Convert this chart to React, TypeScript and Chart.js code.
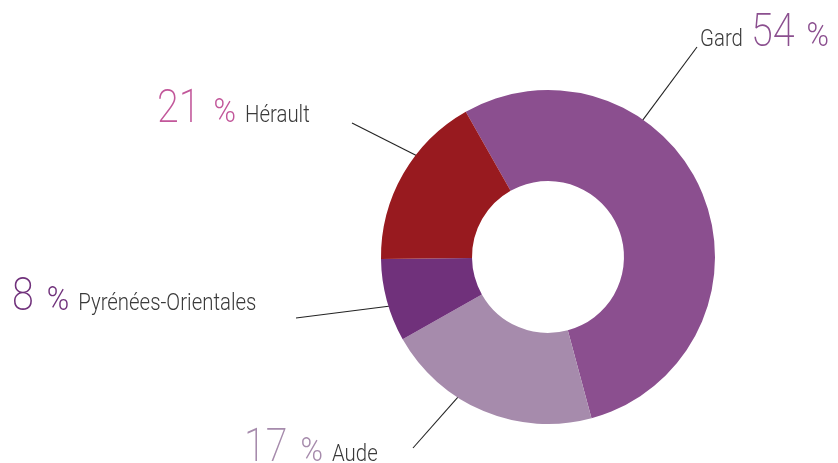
import React, { useEffect, useRef } from "react";
import { Chart, registerables } from "chart.js";

Chart.register(...registerables);

// ---- data ----
const categories = ["Gard", "Aude", "Pyrénées-Orientales", "Hérault"];
const sliceValues = [54, 21, 8, 17];
const labelPercents = ["54", "17", "8", "21"];
const sliceColors = ["#8B4F8F", "#A68BAC", "#70317B", "#981A1F"];
const percentColors = ["#8B4F8F", "#A68BAC", "#70317B", "#C2579A"];

// ---- label layout (annotation positions) ----
type LabelLayout = {
  order: "nameFirst" | "numberFirst";
  x: number;
  y: number;
  lineX: number;
  lineY: number;
  anchorFrac: number;
};
const labelLayouts: LabelLayout[] = [
  { order: "nameFirst", x: 700, y: 46, lineX: 697, lineY: 47, anchorFrac: 0.33 },
  { order: "numberFirst", x: 244, y: 461, lineX: 413, lineY: 448, anchorFrac: 0.63 },
  { order: "numberFirst", x: 12, y: 310, lineX: 296, lineY: 318, anchorFrac: 0.42 },
  { order: "numberFirst", x: 157, y: 122, lineX: 352, lineY: 123, anchorFrac: 0.63 },
];

const FAMILY = "Roboto, 'Open Sans', sans-serif";
const NUM_FONT = `200 46px ${FAMILY}`;
const PCT_FONT = `300 33px ${FAMILY}`;
const NAME_FONT = `300 24px ${FAMILY}`;
const NUM_SX = 0.86;
const PCT_SX = 0.92;
const TXT_SX = 0.85;
const NAME_COLOR = "#3a3a3a";

function drawScaled(ctx: CanvasRenderingContext2D, text: string, x: number, y: number, font: string, sx: number, color: string): number {
  ctx.font = font;
  const w = ctx.measureText(text).width * sx;
  ctx.save();
  ctx.translate(x, y);
  ctx.scale(sx, 1);
  ctx.fillStyle = color;
  ctx.textBaseline = "alphabetic";
  ctx.textAlign = "left";
  ctx.fillText(text, 0, 0);
  ctx.restore();
  return w;
}

const labelPlugin = {
  id: "doughnutLabels",
  beforeDatasetsDraw(chart: any) {
    const ctx: CanvasRenderingContext2D = chart.ctx;
    const meta = chart.getDatasetMeta(0);
    ctx.save();
    ctx.strokeStyle = "#222222";
    ctx.lineWidth = 1.1;
    meta.data.forEach((arc: any, i: number) => {
      const L = labelLayouts[i];
      const p = arc.getProps(["x", "y", "startAngle", "endAngle", "outerRadius"], true);
      const a = p.startAngle + L.anchorFrac * (p.endAngle - p.startAngle);
      const r = p.outerRadius - 4;
      ctx.beginPath();
      ctx.moveTo(L.lineX, L.lineY);
      ctx.lineTo(p.x + Math.cos(a) * r, p.y + Math.sin(a) * r);
      ctx.stroke();
    });
    ctx.restore();
  },
  afterDraw(chart: any) {
    const ctx: CanvasRenderingContext2D = chart.ctx;
    const labels: string[] = chart.data.labels;
    labels.forEach((name, i) => {
      const L = labelLayouts[i];
      let x = L.x;
      if (L.order === "nameFirst") {
        x += drawScaled(ctx, name, x, L.y, NAME_FONT, TXT_SX, NAME_COLOR) + 8;
        x += drawScaled(ctx, labelPercents[i], x, L.y, NUM_FONT, NUM_SX, percentColors[i]) + 12;
        drawScaled(ctx, "%", x, L.y, PCT_FONT, PCT_SX, percentColors[i]);
      } else {
        x += drawScaled(ctx, labelPercents[i], x, L.y, NUM_FONT, NUM_SX, percentColors[i]) + 13;
        x += drawScaled(ctx, "%", x, L.y, PCT_FONT, PCT_SX, percentColors[i]) + 9;
        drawScaled(ctx, name, x, L.y, NAME_FONT, TXT_SX, NAME_COLOR);
      }
    });
  },
};

export default function App() {
  const canvasRef = useRef<HTMLCanvasElement | null>(null);

  useEffect(() => {
    if (!canvasRef.current) return;
    const chart = new Chart(canvasRef.current, {
      type: "doughnut",
      data: {
        labels: categories,
        datasets: [
          {
            data: sliceValues,
            backgroundColor: sliceColors,
            borderWidth: 0,
            hoverOffset: 0,
          },
        ],
      },
      options: {
        responsive: false,
        animation: false,
        devicePixelRatio: 1,
        rotation: -29.5,
        cutout: "45.5%",
        layout: { padding: { left: 381, right: 123, top: 90, bottom: 39 } },
        plugins: {
          legend: { display: false },
          tooltip: { enabled: false },
        },
        events: [],
      },
      plugins: [labelPlugin],
    });
    return () => chart.destroy();
  }, []);

  return (
    <div style={{ position: "absolute", left: 0, top: 0, width: 838, height: 463, background: "#ffffff" }}>
      <canvas ref={canvasRef} width={838} height={463} style={{ width: 838, height: 463, display: "block" }} />
    </div>
  );
}
